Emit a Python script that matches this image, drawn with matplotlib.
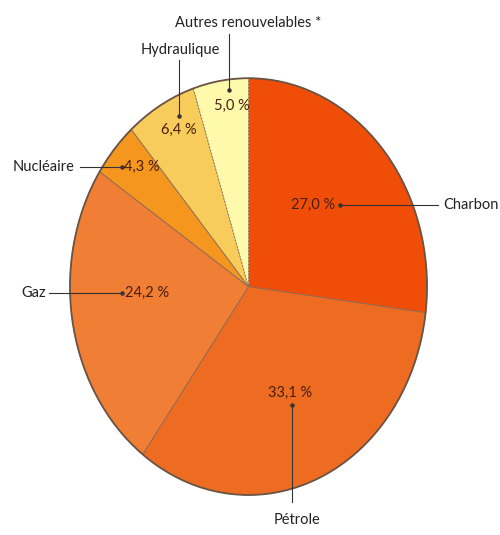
import matplotlib
matplotlib.use("Agg")
import matplotlib.pyplot as plt
import numpy as np

# energy mix shares (%), clockwise from 12 o'clock
categories = ["Charbon", "Pétrole", "Gaz", "Nucléaire", "Hydraulique", "Autres renouvelables *"]
shares = [27.0, 33.1, 24.2, 4.3, 6.4, 5.0]
pct_labels = ["27,0 %", "33,1 %", "24,2 %", "4,3 %", "6,4 %", "5,0 %"]
colors = ["#F04E08", "#EE6C22", "#F07E34", "#F5961F", "#F8CC5A", "#FFF9AC"]

plt.rcParams['font.family'] = ['Lato', 'DejaVu Sans']

fig = plt.figure(figsize=(5.0, 5.35), dpi=100)
ax = fig.add_axes([0.14, 0.0748, 0.714, 0.779])

wedges, _ = ax.pie(shares, colors=colors, startangle=90, counterclock=False,
                   wedgeprops=dict(edgecolor="#8a6a55", linewidth=0.6))
wedges[-1].set_linestyle((0, (2, 2)))
# outer rim
ax.pie([1], colors=["none"], wedgeprops=dict(edgecolor="#6b5444", linewidth=1.3, fill=False))
ax.set_aspect("auto")
ax.set_xlim(-1, 1)
ax.set_ylim(-1, 1)
ax.axis("off")

# label layout in data coords of the unit pie (x: 178.5 px, y: 208.5 px per unit)
pct_pos = [(0.364, 0.393), (0.235, -0.508), (-0.566, -0.029), (-0.60, 0.575), (-0.392, 0.753), (-0.095, 0.868)]
dot_pos = [(0.515, 0.393), (0.246, -0.57), (-0.706, -0.029), (-0.706, 0.575), (-0.392, 0.82), (-0.112, 0.945)]
end_pos = [(1.064, 0.393), (0.246, -1.035), (-1.12, -0.029), (-0.944, 0.575), (-0.392, 1.087), (-0.112, 1.21)]
lab_text = [(1.09, 0.393, "left", "center"), (0.27, -1.085, "center", "top"),
            (-1.135, -0.029, "right", "center"), (-0.975, 0.575, "right", "center"),
            (-0.38, 1.10, "center", "bottom"), (0.0, 1.232, "center", "bottom")]

for i, cat in enumerate(categories):
    ax.text(*pct_pos[i], pct_labels[i], ha="center", va="center", fontsize=10.5, color="#4a1e10")
    ax.plot([dot_pos[i][0], end_pos[i][0]], [dot_pos[i][1], end_pos[i][1]],
            color="#333333", lw=0.8, clip_on=False)
    ax.plot(*dot_pos[i], "o", ms=2.2, color="#333333", clip_on=False)
    tx, ty, ha, va = lab_text[i]
    ax.text(tx, ty, cat, ha=ha, va=va, fontsize=10.5, color="#222222")

fig.savefig("out.png", dpi=100)
